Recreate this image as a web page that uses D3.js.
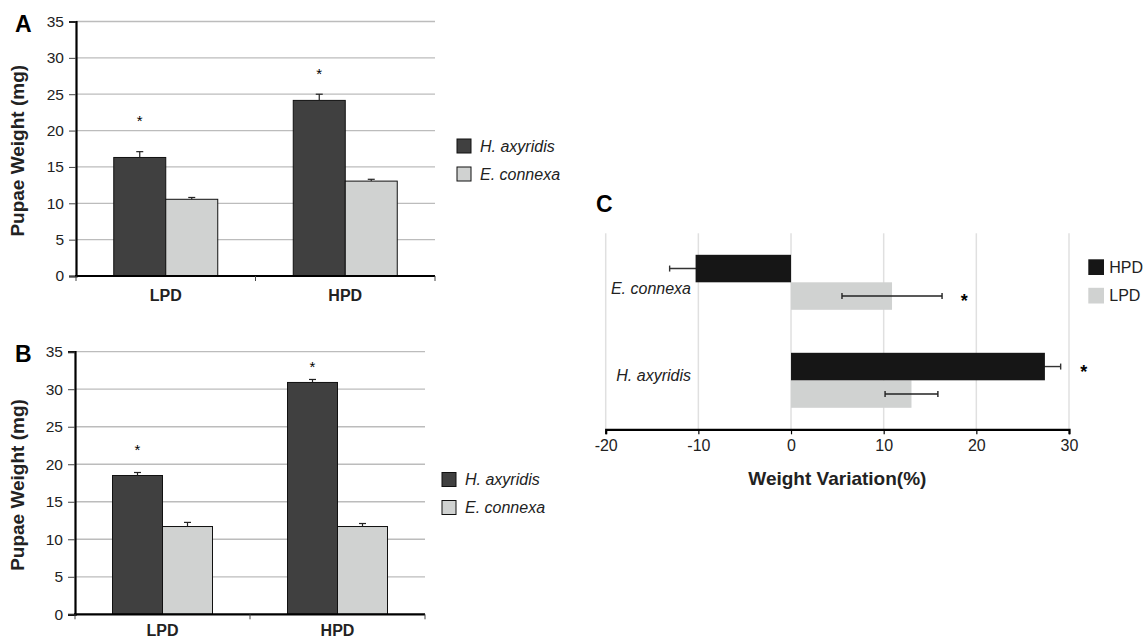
<!DOCTYPE html>
<html>
<head>
<meta charset="utf-8">
<script src="https://cdn.jsdelivr.net/npm/d3@7"></script>
<style>
  body { margin: 0; background: #fff; }
  svg, svg text { font-family: "Liberation Sans", Arial, sans-serif; }
</style>
</head>
<body>
<div id="my_dataviz"></div>
<script>
// data
const groups = ["LPD", "HPD"];
const species = ["H. axyridis", "E. connexa"];
const yTicks = [0, 5, 10, 15, 20, 25, 30, 35];

// panel A
const a_hax = [16.3, 24.15], a_haxErr = [0.8, 0.85];
const a_eco = [10.55, 13.05], a_ecoErr = [0.25, 0.25];
const a_star = [21.9, 28.3];

// panel B
const b_hax = [18.5, 30.9], b_haxErr = [0.4, 0.4];
const b_eco = [11.7, 11.7], b_ecoErr = [0.55, 0.4];
const b_star = [22.4, 33.5];

// panel C
const c_species = ["E. connexa", "H. axyridis"];
const c_series = ["HPD", "LPD"];
const c_hpd = [-10.3, 27.4], c_hpdErr = [2.8, 1.7];
const c_lpd = [10.9, 13.0], c_lpdErr = [5.4, 2.85];
const c_xTicks = [-20, -10, 0, 10, 20, 30];
// star sits on: [species, series, x value]
const c_stars = [["E. connexa", "LPD", 18.7], ["H. axyridis", "HPD", 31.6]];

const colH = "#404040", colE = "#d0d2d1";
const colHPD = "#161616", colLPD = "#d0d2d1";
const FONT = '"Liberation Sans", Arial, sans-serif';

const svg = d3.select("#my_dataviz")
  .append("svg")
  .attr("width", 1143)
  .attr("height", 640);

function drawBarPanel(o) {
  const g = svg.append("g");
  const y = d3.scaleLinear().domain([0, 35]).range([o.y0, o.y35]);
  const x = d3.scaleBand().domain(groups).range([o.xl, o.xr]);
  const xs = d3.scaleBand().domain(species)
    .range([(x.bandwidth() - 2 * o.barW) / 2, (x.bandwidth() + 2 * o.barW) / 2]);

  // gridlines
  g.selectAll(".grid").data(yTicks.filter(d => d > 0)).join("line")
    .attr("x1", o.xl).attr("x2", o.xr)
    .attr("y1", d => y(d)).attr("y2", d => y(d))
    .attr("stroke", "#bcbcbc").attr("stroke-width", 1.3);

  const rows = [];
  groups.forEach((grp, i) => {
    rows.push({grp, sp: species[0], v: o.hax[i], e: o.haxErr[i], c: colH});
    rows.push({grp, sp: species[1], v: o.eco[i], e: o.ecoErr[i], c: colE});
  });

  g.selectAll(".bar").data(rows).join("rect")
    .attr("x", d => x(d.grp) + xs(d.sp))
    .attr("width", xs.bandwidth())
    .attr("y", d => y(d.v))
    .attr("height", d => y(0) - y(d.v))
    .attr("fill", d => d.c)
    .attr("stroke", "#111").attr("stroke-width", 1);

  // error bars (upper)
  const eb = g.selectAll(".err").data(rows).join("g")
    .attr("transform", d => `translate(${x(d.grp) + xs(d.sp) + xs.bandwidth() / 2},0)`);
  eb.append("line").attr("y1", d => y(d.v)).attr("y2", d => y(d.v + d.e))
    .attr("stroke", "#222").attr("stroke-width", 1.2);
  eb.append("line").attr("x1", -3.5).attr("x2", 3.5)
    .attr("y1", d => y(d.v + d.e)).attr("y2", d => y(d.v + d.e))
    .attr("stroke", "#222").attr("stroke-width", 1.2);

  // stars
  g.selectAll(".star").data(groups).join("text")
    .attr("x", d => x(d) + xs(species[0]) + xs.bandwidth() / 2)
    .attr("y", (d, i) => y(o.star[i]))
    .attr("dy", "0.6em")
    .attr("text-anchor", "middle")
    .style("font-size", "15px")
    .text("*");

  // y axis
  const ya = g.append("g").attr("transform", `translate(${o.xl},0)`)
    .call(d3.axisLeft(y).tickValues(yTicks).tickSize(7).tickPadding(5));
  ya.attr("font-family", FONT);
  ya.select(".domain").attr("stroke", "#000").attr("stroke-width", 2.2);
  ya.selectAll(".tick line").attr("stroke", "#444");
  ya.selectAll(".tick text").style("font-size", "15.5px").attr("fill", "#222");

  // x axis: ticks at the band edges
  g.append("line").attr("x1", o.xl - 1).attr("x2", o.xr)
    .attr("y1", y(0)).attr("y2", y(0))
    .attr("stroke", "#000").attr("stroke-width", 2.2);
  const edges = [o.xl, ...groups.map(d => x(d) + x.bandwidth())];
  g.selectAll(".xt").data(edges).join("line")
    .attr("x1", d => d).attr("x2", d => d)
    .attr("y1", y(0)).attr("y2", y(0) + 5)
    .attr("stroke", "#444");
  g.selectAll(".xl").data(groups).join("text")
    .attr("x", d => x(d) + x.bandwidth() / 2)
    .attr("y", o.catY)
    .attr("text-anchor", "middle")
    .style("font-size", "16px").style("font-weight", "bold")
    .attr("fill", "#222")
    .text(d => d);

  // y title
  g.append("text")
    .attr("transform", `translate(${o.titleX},${(o.y0 + o.y35) / 2 + 2}) rotate(-90)`)
    .attr("text-anchor", "middle")
    .style("font-size", "19px").style("font-weight", "bold")
    .attr("fill", "#222")
    .text("Pupae Weight (mg)");

  // panel letter
  g.append("text").attr("x", 15).attr("y", o.letterY)
    .style("font-size", "23px").style("font-weight", "bold")
    .text(o.letter);

  // legend
  const lg = g.selectAll(".leg").data(species).join("g")
    .attr("transform", (d, i) => `translate(${o.legX},${o.legY + i * 28})`);
  lg.append("rect").attr("x", 0).attr("y", -7).attr("width", 14).attr("height", 14)
    .attr("fill", (d, i) => i === 0 ? colH : colE)
    .attr("stroke", "#111").attr("stroke-width", 1);
  lg.append("text").attr("x", 23).attr("y", 5.5)
    .style("font-size", "16px").style("font-style", "italic")
    .attr("fill", "#222")
    .text(d => d);
}

drawBarPanel({
  letter: "A", letterY: 32,
  xl: 76, xr: 435, y0: 276, y35: 21.5, barW: 52,
  hax: a_hax, haxErr: a_haxErr, eco: a_eco, ecoErr: a_ecoErr, star: a_star,
  catY: 301, titleX: 24, legX: 457, legY: 146
});

drawBarPanel({
  letter: "B", letterY: 362,
  xl: 75, xr: 425, y0: 614.3, y35: 351.7, barW: 50,
  hax: b_hax, haxErr: b_haxErr, eco: b_eco, ecoErr: b_ecoErr, star: b_star,
  catY: 635.5, titleX: 24, legX: 442, legY: 479.5
});

// ---- panel C ----
const gc = svg.append("g");
const cx = d3.scaleLinear().domain([-20, 30]).range([605.7, 1069]);
const cy = d3.scaleBand().domain(c_species).range([233.3, 429.3]);
const cys = d3.scaleBand().domain(c_series)
  .range([(cy.bandwidth() - 55) / 2, (cy.bandwidth() + 55) / 2]);

gc.selectAll(".vgrid").data(c_xTicks).join("line")
  .attr("x1", d => cx(d)).attr("x2", d => cx(d))
  .attr("y1", 233.3).attr("y2", 429.3)
  .attr("stroke", "#e0e0e0").attr("stroke-width", 1.5);

const crows = [];
c_species.forEach((sp, i) => {
  crows.push({sp, s: "HPD", v: c_hpd[i], e: c_hpdErr[i], c: colHPD, ec: "#333"});
  crows.push({sp, s: "LPD", v: c_lpd[i], e: c_lpdErr[i], c: colLPD, ec: "#222"});
});

function barsOf(sel, cls, data) {
  sel.selectAll("." + cls).data(data).join("rect")
    .attr("class", cls)
    .attr("x", d => cx(Math.min(0, d.v)))
    .attr("width", d => Math.abs(cx(d.v) - cx(0)))
    .attr("y", d => cy(d.sp) + cys(d.s))
    .attr("height", cys.bandwidth())
    .attr("fill", d => d.c);
}

// light bars, then all error bars, then the black bars on top
barsOf(gc, "cbarL", crows.filter(d => d.s === "LPD"));

const ceb = gc.selectAll(".cerr").data(crows).join("g")
  .attr("transform", d => `translate(0,${cy(d.sp) + cys(d.s) + cys.bandwidth() / 2})`);
ceb.append("line").attr("x1", d => cx(d.v - d.e)).attr("x2", d => cx(d.v + d.e))
  .attr("stroke", d => d.ec).attr("stroke-width", 1.4);
ceb.selectAll(".cap").data(d => [d.v - d.e, d.v + d.e].map(v => ({v, ec: d.ec}))).join("line")
  .attr("x1", d => cx(d.v)).attr("x2", d => cx(d.v))
  .attr("y1", -3).attr("y2", 3)
  .attr("stroke", d => d.ec).attr("stroke-width", 1.4);

barsOf(gc, "cbarH", crows.filter(d => d.s === "HPD"));

gc.selectAll(".cstar").data(c_stars).join("text")
  .attr("x", d => cx(d[2]))
  .attr("y", d => cy(d[0]) + cys(d[1]) + cys.bandwidth() / 2)
  .attr("dy", "0.62em")
  .attr("text-anchor", "middle")
  .style("font-size", "18px").style("font-weight", "bold")
  .text("*");

// x axis
const cxa = gc.append("g").attr("transform", "translate(0,429.3)")
  .call(d3.axisBottom(cx).tickValues(c_xTicks).tickFormat(d => String(d))
    .tickSize(5).tickPadding(5));
cxa.attr("font-family", FONT);
cxa.select(".domain").attr("stroke", "#000").attr("stroke-width", 2.2);
cxa.selectAll(".tick line").attr("stroke", "#000").attr("stroke-width", 1.2);
cxa.selectAll(".tick text").style("font-size", "16px").attr("fill", "#222");

gc.append("text")
  .attr("x", (cx(-20) + cx(30)) / 2).attr("y", 485)
  .attr("text-anchor", "middle")
  .style("font-size", "19px").style("font-weight", "bold")
  .attr("fill", "#222")
  .text("Weight Variation(%)");

// category labels (placed the way Excel left them)
const c_labelDy = [6.5, -4.5];
gc.selectAll(".clab").data(c_species).join("text")
  .attr("x", 691)
  .attr("y", (d, i) => cy(d) + cy.bandwidth() / 2 + c_labelDy[i] + 5)
  .attr("text-anchor", "end")
  .style("font-size", "16px").style("font-style", "italic")
  .attr("fill", "#222")
  .text(d => d);

gc.append("text").attr("x", 596).attr("y", 212)
  .style("font-size", "23px").style("font-weight", "bold")
  .text("C");

const clg = gc.selectAll(".cleg").data(c_series).join("g")
  .attr("transform", (d, i) => `translate(1088.3,${259.3 + i * 28.5})`);
clg.append("rect").attr("width", 15.7).attr("height", 15.7)
  .attr("fill", (d, i) => i === 0 ? colHPD : colLPD);
clg.append("text").attr("x", 21).attr("y", 13.5)
  .style("font-size", "16px")
  .attr("fill", "#222")
  .text(d => d);
</script>
</body>
</html>
